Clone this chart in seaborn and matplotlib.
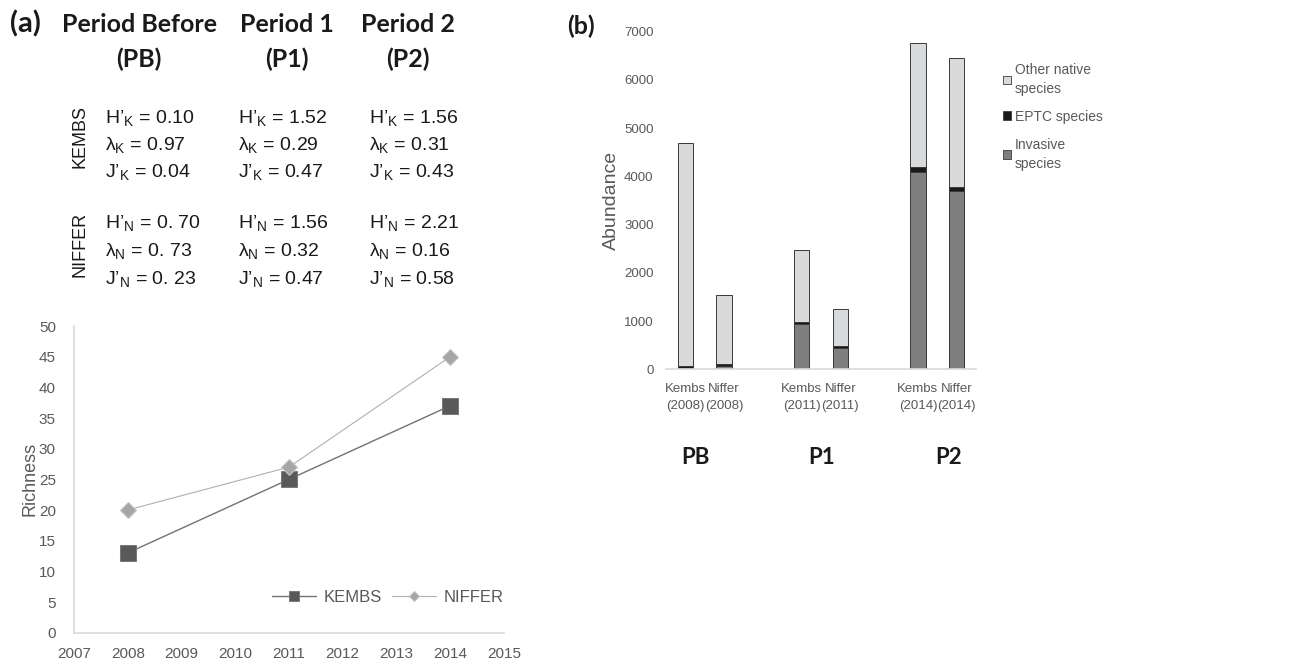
import pandas as pd
import matplotlib
matplotlib.use("Agg")
import matplotlib.pyplot as plt
import seaborn as sns
from matplotlib import font_manager
from matplotlib.patches import Patch

# ---- data ----
years = [2008, 2011, 2014]
richness_kembs = [13, 25, 37]
richness_niffer = [20, 27, 45]

period_titles = ["Period Before\n(PB)", "Period 1\n(P1)", "Period 2\n(P2)"]
period_short = ["PB", "P1", "P2"]
shannon_k = ["0.10", "1.52", "1.56"]
simpson_k = ["0.97", "0.29", "0.31"]
even_k = ["0.04", "0.47", "0.43"]
shannon_n = ["0. 70", "1.56", "2.21"]
simpson_n = ["0. 73", "0.32", "0.16"]
even_n = ["0. 23", "0.47", "0.58"]

sites = ["Kembs\n(2008)", "Niffer\n(2008)", "Kembs\n(2011)", "Niffer\n(2011)",
         "Kembs\n(2014)", "Niffer\n(2014)"]
invasive = [20, 60, 930, 440, 4090, 3700]
eptc = [50, 50, 50, 40, 110, 90]
other_native = [4630, 1430, 1490, 770, 2560, 2670]

# ---- style ----
sns.set_theme(style="white")
plt.rcParams["font.family"] = ["Liberation Sans", "DejaVu Sans"]
plt.rcParams["mathtext.fontset"] = "custom"
plt.rcParams["mathtext.rm"] = "Liberation Sans"
plt.rcParams["mathtext.it"] = "Liberation Sans:italic"

names = {f.name for f in font_manager.fontManager.ttflist}
bold_font = "Lato" if "Lato" in names else "Liberation Sans"

W, H = 1306, 664
fig = plt.figure(figsize=(W / 100, H / 100), dpi=100, facecolor="white")

def fx(px):
    return px / W

def fy(py):
    return 1 - py / H

text_col = "#1a1a1a"
tick_col = "#595959"
axis_col = "#d9d9d9"

# ---- panel (a): text table ----
fig.text(fx(25), fy(24), "(a)", fontsize=21, fontweight="bold", family=bold_font,
         ha="center", va="center", color=text_col)
for x, t in zip([139, 287, 408], period_titles):
    l1, l2 = t.split("\n")
    fig.text(fx(x), fy(24), l1, fontsize=18, fontweight="bold", family=bold_font,
             ha="center", va="center", color=text_col)
    fig.text(fx(x), fy(59), l2, fontsize=18, fontweight="bold", family=bold_font,
             ha="center", va="center", color=text_col)

fig.text(fx(80), fy(136), "KEMBS", rotation=90, fontsize=13, ha="center", va="center", color=text_col)
fig.text(fx(80), fy(244), "NIFFER", rotation=90, fontsize=13, ha="center", va="center", color=text_col)

col_x = [105, 238, 369]
rows = [
    ("H’$_{\\mathregular{K}}$ = ", shannon_k, 123),
    ("λ$_{\\mathregular{K}}$ = ", simpson_k, 150),
    ("J’$_{\\mathregular{K}}$ = ", even_k, 177),
    ("H’$_{\\mathregular{N}}$ = ", shannon_n, 228),
    ("λ$_{\\mathregular{N}}$ = ", simpson_n, 256),
    ("J’$_{\\mathregular{N}}$ = ", even_n, 284),
]
for prefix, vals, yb in rows:
    for x, v in zip(col_x, vals):
        fig.text(fx(x), fy(yb), prefix + v, fontsize=14, ha="left", va="baseline", color=text_col)

# ---- panel (a): richness line chart ----
ax1 = fig.add_axes([fx(74), fy(632.7), fx(504 - 74), (632.7 - 326) / H])
sns.lineplot(x=years, y=richness_kembs, ax=ax1, color="#727272", linewidth=1,
             marker="s", markersize=11, markerfacecolor="#595959",
             markeredgecolor="#7a7a7a", label="KEMBS")
sns.lineplot(x=years, y=richness_niffer, ax=ax1, color="#b0b0b0", linewidth=0.8,
             marker="D", markersize=8.5, markerfacecolor="#a6a6a6",
             markeredgecolor="#c4c4c4", label="NIFFER")
ax1.set_xlim(2007, 2015)
ax1.set_ylim(0, 50)
ax1.set_xticks(range(2007, 2016))
ax1.set_yticks(range(0, 51, 5))
ax1.tick_params(axis="x", length=0, labelsize=11, colors=tick_col, pad=10)
ax1.tick_params(axis="y", length=0, labelsize=11, colors=tick_col, pad=13)
ax1.set_ylabel("Richness", fontsize=13, color=tick_col, labelpad=0)
for s in ["top", "right"]:
    ax1.spines[s].set_visible(False)
for s in ["left", "bottom"]:
    ax1.spines[s].set_color(axis_col)
    ax1.spines[s].set_linewidth(1.2)
ax1.legend(loc="center right", bbox_to_anchor=(1.0, 0.116), ncol=2, frameon=False,
           fontsize=12, handlelength=2.6, handletextpad=0.5, columnspacing=0.6,
           borderaxespad=0, borderpad=0, markerscale=0.65, labelcolor=tick_col)

# ---- panel (b): stacked abundance bars ----
order = [sites[0], sites[1], " ", sites[2], sites[3], "  ", sites[4], sites[5]]
df = pd.DataFrame({
    "site": sites,
    "total": [a + b + c for a, b, c in zip(invasive, eptc, other_native)],
    "inv_eptc": [a + b for a, b in zip(invasive, eptc)],
    "inv": invasive,
})

ax2 = fig.add_axes([fx(666), fy(369.3), fx(976 - 666), (369.3 - 31.7) / H])
c_other, c_eptc, c_inv = "#d9dadc", "#1a1a1a", "#7f7f7f"
edge = "#3a3a3a"
for col, c in [("total", c_other), ("inv_eptc", c_eptc), ("inv", c_inv)]:
    sns.barplot(data=df, x="site", y=col, order=order, color=c, saturation=1,
                width=0.4, edgecolor=edge, linewidth=0.7, errorbar=None, ax=ax2)
ax2.set_ylim(0, 7000)
ax2.set_yticks(range(0, 7001, 1000))
ax2.set_xlim(-0.5, 7.5)
ax2.set_xlabel("")
ax2.set_ylabel("Abundance", fontsize=14, color=tick_col, labelpad=3)
ax2.tick_params(axis="y", length=0, colors=tick_col, pad=9, labelsize=9.5)
ax2.tick_params(axis="x", length=0, colors=tick_col, pad=10, labelsize=9.5)
for lab in ax2.get_xticklabels():
    lab.set_linespacing(1.5)
for s in ["top", "right", "left"]:
    ax2.spines[s].set_visible(False)
ax2.spines["bottom"].set_color(axis_col)
ax2.spines["bottom"].set_linewidth(1.2)

handles = [Patch(facecolor=c_other, edgecolor=edge, linewidth=0.6, label="Other native\nspecies"),
           Patch(facecolor=c_eptc, edgecolor=edge, linewidth=0.6, label="EPTC species"),
           Patch(facecolor=c_inv, edgecolor=edge, linewidth=0.6, label="Invasive\nspecies")]
leg = fig.legend(handles=handles, loc="upper left", bbox_to_anchor=(fx(996), fy(56)),
                 frameon=False, handlelength=0.6, handleheight=0.6, handletextpad=0.25,
                 labelspacing=1.0, borderpad=0, fontsize=10)
for t in leg.get_texts():
    t.set_color(tick_col)
    t.set_linespacing(1.45)

fig.text(fx(581), fy(26), "(b)", fontsize=18, fontweight="bold", family=bold_font,
         ha="center", va="center", color=text_col)
for x, t in zip([695, 822, 949], period_short):
    fig.text(fx(x), fy(458), t, fontsize=16, fontweight="bold", family=bold_font,
             ha="center", va="center", color=text_col)

fig.savefig("out.png", dpi=100, facecolor="white")
